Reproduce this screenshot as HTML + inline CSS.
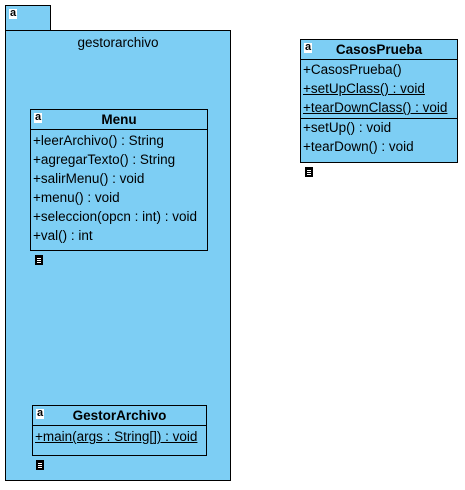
<!DOCTYPE html>
<html><head><style>
body{margin:0;width:465px;height:490px;background:#fff;position:relative;font-family:"Liberation Sans",sans-serif;font-size:13.5px;color:#000;overflow:hidden}
.b{position:absolute;background:#7dcef4;border:1px solid #000;box-sizing:border-box}
.cls{position:absolute;background:#7dcef4;border:1px solid #000;box-sizing:border-box}
.hd{font-weight:bold;text-align:center;border-bottom:1px solid #000;position:relative;height:19px;line-height:19px;font-size:13.5px;margin-bottom:2px}
.r{height:19px;line-height:18px;padding-left:2px;white-space:nowrap}
.u{text-decoration:underline}
.sep{border-bottom:1px solid #000}
.ic{position:absolute;left:3px;top:3px;width:8px;height:10px;background:#fff;font-size:11px;line-height:9px;font-weight:bold;text-align:center}
.doc{position:absolute;width:8px;height:10px;background:#000}
.doc:after{content:"";position:absolute;left:2px;top:3px;width:4px;height:1px;background:#fff;box-shadow:0 2px 0 #fff,0 4px 0 #fff}
</style></head><body>
<div class="b" style="left:5px;top:5px;width:46px;height:27px"><div class="ic" style="left:3px;top:3px">a</div></div>
<div class="b" style="left:5px;top:30px;width:226px;height:451px"><div style="text-align:center;margin-top:4px">gestorarchivo</div></div>

<div class="cls" style="left:30px;top:109px;width:178px;height:142px">
<div class="hd"><div class="ic">a</div>Menu</div>
<div class="r">+leerArchivo() : String</div>
<div class="r">+agregarTexto() : String</div>
<div class="r">+salirMenu() : void</div>
<div class="r">+menu() : void</div>
<div class="r">+seleccion(opcn : int) : void</div>
<div class="r">+val() : int</div>
</div>
<div class="doc" style="left:35px;top:255px"></div>

<div class="cls" style="left:32px;top:405px;width:175px;height:51px">
<div class="hd"><div class="ic">a</div>GestorArchivo</div>
<div class="r u">+main(args : String[]) : void</div>
</div>
<div class="doc" style="left:36px;top:460px"></div>

<div class="cls" style="left:300px;top:39px;width:158px;height:124px">
<div class="hd" style="margin-bottom:1px"><div class="ic">a</div>CasosPrueba</div>
<div class="r">+CasosPrueba()</div>
<div class="r u">+setUpClass() : void</div>
<div class="r u sep">+tearDownClass() : void</div>
<div class="r">+setUp() : void</div>
<div class="r">+tearDown() : void</div>
</div>
<div class="doc" style="left:305px;top:167px"></div>
</body></html>
